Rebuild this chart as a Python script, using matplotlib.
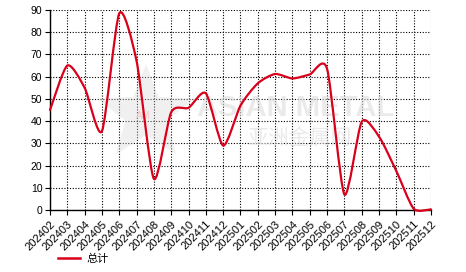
import numpy as np
import matplotlib
matplotlib.use('Agg')
import matplotlib.pyplot as plt
from matplotlib.path import Path
from matplotlib.patches import PathPatch, Polygon
from matplotlib.lines import Line2D

plt.rcParams['font.family'] = ['Liberation Sans', 'Noto Sans CJK SC', 'DejaVu Sans']

months = ['202402', '202403', '202404', '202405', '202406', '202407', '202408',
          '202409', '202410', '202411', '202412', '202501', '202502', '202503',
          '202504', '202505', '202506', '202507', '202508', '202509', '202510',
          '202511', '202512']
total = [45, 65, 55, 35.5, 88.5, 67, 14, 44, 46, 52.5, 29, 47, 57, 61.2,
         59.2, 61, 63.5, 7, 39.7, 33, 17.5, 0.6, 0.3]
series_name = '总计'
red = '#d9001b'

fig = plt.figure(figsize=(4.66, 2.72), dpi=100)
ax = fig.add_axes([50 / 466, 62 / 272, 381 / 466, 200 / 272])

# smooth line drawn as bezier segments between the data points
x = np.arange(len(total), dtype=float)
y = np.array(total, dtype=float)
s = 0.12
verts = [(x[0], y[0])]
codes = [Path.MOVETO]
for i in range(len(x) - 1):
    x0, y0 = x[i], y[i]
    x1, y1 = x[i + 1], y[i + 1]
    xa, ya = (x[i - 1], y[i - 1]) if i > 0 else (x0, y0)
    xb, yb = (x[i + 2], y[i + 2]) if i + 2 < len(x) else (x1, y1)
    c1 = (x0 + (x1 - xa) * s, y0 + (y1 - ya) * s)
    c2 = (x1 - (xb - x0) * s, y1 - (yb - y0) * s)
    verts += [c1, c2, (x1, y1)]
    codes += [Path.CURVE4] * 3
ax.add_patch(PathPatch(Path(verts, codes), facecolor='none', edgecolor=red,
                       lw=1.6, zorder=3, clip_on=False, capstyle='round', joinstyle='round'))

ax.set_xlim(0, len(months) - 1)
ax.set_ylim(0, 90)
ax.set_yticks(range(0, 91, 10))
ax.set_xticks(x)
ax.set_xticklabels(months, rotation=45, ha='right', va='top', rotation_mode='anchor')
ax.tick_params(axis='both', length=3.5, width=0.8, colors='black')
ax.tick_params(axis='y', labelsize=7.5, pad=2)
ax.tick_params(axis='x', labelsize=8, pad=3)

ax.grid(True, color='black', linestyle=(0, (1, 1.5)), linewidth=0.8)
ax.set_axisbelow(True)
for side in ['top', 'right']:
    ax.spines[side].set_visible(False)
for side in ['left', 'bottom']:
    ax.spines[side].set_linewidth(1.0)

# watermark
ang = np.pi / 2 + np.arange(10) * np.pi / 5
rad = np.where(np.arange(10) % 2 == 0, 1.0, 0.42)
star = np.column_stack([0.252 + 0.135 * rad * np.cos(ang), 0.48 + 0.25 * rad * np.sin(ang)])
ax.add_patch(Polygon(star, closed=True, transform=ax.transAxes, facecolor='#d5d5d5',
                     edgecolor='none', alpha=0.35, zorder=1))
ax.text(0.245, 0.47, 'AM', transform=ax.transAxes, fontsize=7, color='#f3c4c4',
        ha='center', va='center', zorder=1)
ax.text(0.645, 0.51, 'ASIAN METAL', transform=ax.transAxes, fontsize=21, fontweight='bold',
        color='#dddddd', alpha=0.6, ha='center', va='center', zorder=1)
ax.text(0.655, 0.36, '亚洲金属网', transform=ax.transAxes, fontsize=15,
        family=['Noto Sans CJK SC', 'DejaVu Sans'], color='#dddddd', alpha=0.6,
        ha='center', va='center', zorder=1)

handle = Line2D([], [], color=red, lw=1.8)
fig.legend([handle], [series_name], loc='center left', bbox_to_anchor=(52 / 466, 13 / 272),
           frameon=False, prop={'family': ['Noto Sans CJK SC', 'DejaVu Sans'], 'size': 8},
           handlelength=2.0, handletextpad=0.6, borderpad=0)

fig.savefig('out.png', dpi=100)
